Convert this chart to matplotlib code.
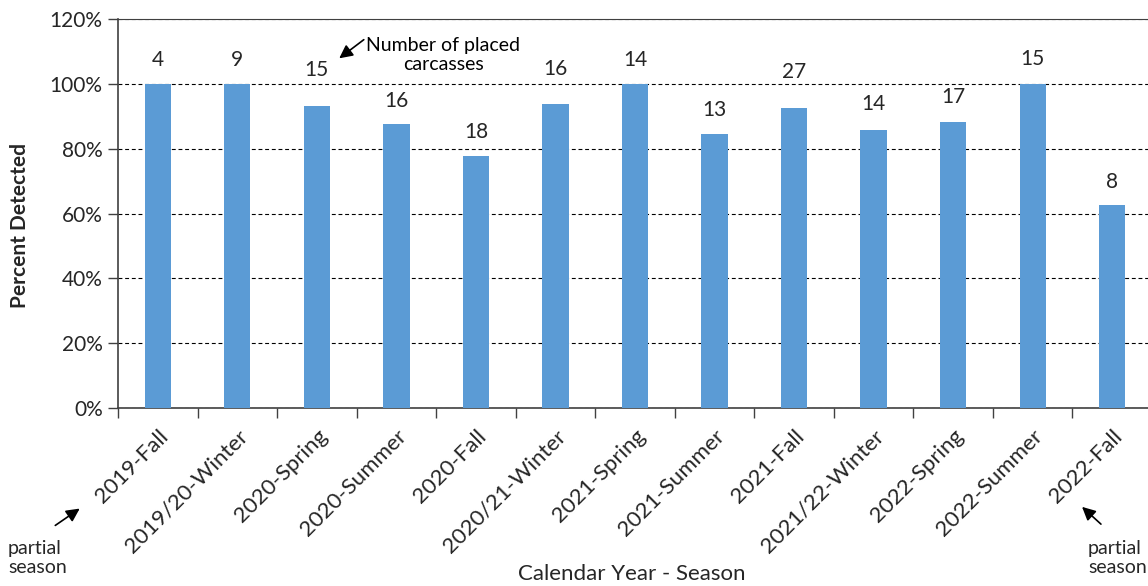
import matplotlib
matplotlib.use('Agg')
import matplotlib.pyplot as plt
from matplotlib.ticker import FuncFormatter, MultipleLocator, FixedLocator

plt.rcParams['font.family'] = ['Lato', 'DejaVu Sans']

# Seasonal carcass detection data
seasons = ['2019-Fall', '2019/20-Winter', '2020-Spring', '2020-Summer', '2020-Fall',
           '2020/21-Winter', '2021-Spring', '2021-Summer', '2021-Fall', '2021/22-Winter',
           '2022-Spring', '2022-Summer', '2022-Fall']
placed = [4, 9, 15, 16, 18, 16, 14, 13, 27, 14, 17, 15, 8]
pct_detected = [100, 100, 93.3, 87.5, 77.8, 93.8, 100, 84.6, 92.6, 85.7, 88.2, 100, 62.5]

# label lift above each bar (pixels); raised where a gridline would cross
label_lift = [24, 24, 36, 23, 24, 35, 24, 24, 36, 26, 25, 25, 23]

text_col = '#262626'
bar_col = '#5B9BD5'

fig = plt.figure(figsize=(11.48, 5.86), dpi=100)
ax = fig.add_axes([118/1148, 178/586, 1034/1148, 389/586])

x = list(range(len(seasons)))
ax.bar(x, pct_detected, width=0.33, color=bar_col, zorder=3)

ax.set_xlim(-0.5, len(seasons) - 0.5)
ax.set_ylim(0, 120)
ax.yaxis.set_major_locator(MultipleLocator(20))
ax.yaxis.set_major_formatter(FuncFormatter(lambda v, p: '%d%%' % v))
ax.grid(axis='y', color='black', linestyle=(0, (3.5, 2.5)), linewidth=0.8, zorder=0)

# category labels at bar centres, tick marks at the boundaries
ax.set_xticks(x)
ax.set_xticklabels(seasons, rotation=45, ha='right', rotation_mode='anchor',
                   fontsize=16, color=text_col)
ax.xaxis.set_minor_locator(FixedLocator([i - 0.5 for i in range(len(seasons) + 1)]))
ax.tick_params(axis='x', which='major', length=0, pad=13)
ax.tick_params(axis='x', which='minor', length=7, width=1, color='#404040')
ax.tick_params(axis='y', length=7, width=1, color='#404040', labelsize=15,
               labelcolor=text_col, pad=4)

ax.spines['right'].set_visible(False)
ax.spines['top'].set_color('#404040')
ax.spines['left'].set_color('#404040')
ax.spines['bottom'].set_color('#404040')
ax.spines['left'].set_linewidth(1.2)
ax.spines['bottom'].set_linewidth(1.2)

# number of carcasses above each bar
for xi, v, n, lift in zip(x, pct_detected, placed, label_lift):
    ax.annotate(str(n), (xi, v), xytext=(0, lift), textcoords='offset pixels',
                ha='center', va='center', fontsize=15, color=text_col)

ax.set_ylabel('Percent Detected', fontsize=15, fontweight='bold', color=text_col)
ax.yaxis.set_label_coords(-0.085, 0.47)
fig.text(632/1148, 1 - 574/586, 'Calendar Year - Season', ha='center', va='center',
         fontsize=16, color=text_col)

# callout for the count labels
fig.text(443/1148, 1 - 55/586, 'Number of placed\ncarcasses', ha='center', va='center',
         fontsize=14, color='black', linespacing=1.15)
ax.annotate('', xy=(337/1148, 1 - 60/586), xytext=(366/1148, 1 - 38/586),
            xycoords='figure fraction', textcoords='figure fraction',
            arrowprops=dict(arrowstyle='-|>', color='black', lw=1.2, mutation_scale=20),
            annotation_clip=False)

# partial season notes
for tx, head, tail in [(8, (82, 507), (53, 527)), (1088, (1080, 505), (1103, 526))]:
    fig.text(tx/1148, 1 - 558/586, 'partial\nseason', ha='left', va='center',
             fontsize=14, color=text_col, linespacing=1.2)
    ax.annotate('', xy=(head[0]/1148, 1 - head[1]/586), xytext=(tail[0]/1148, 1 - tail[1]/586),
                xycoords='figure fraction', textcoords='figure fraction',
                arrowprops=dict(arrowstyle='-|>', color='black', lw=1.2, mutation_scale=20),
                annotation_clip=False)

fig.savefig('out.png', dpi=100)
